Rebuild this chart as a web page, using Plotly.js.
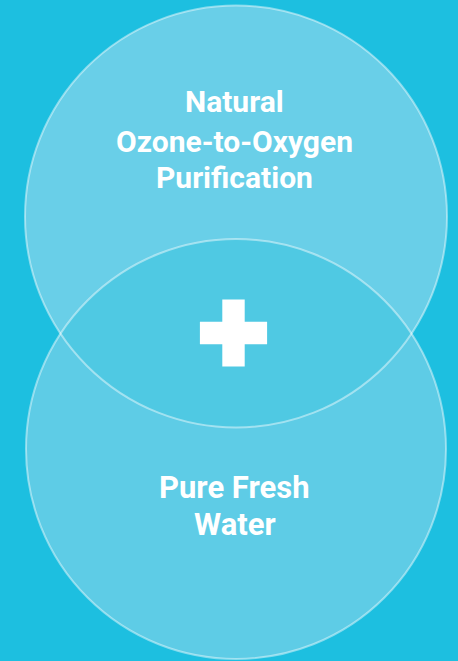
<!DOCTYPE html>
<html>
<head>
<meta charset="utf-8">
<script src="https://cdn.plot.ly/plotly-3.0.1.min.js"></script>
<style>html,body{margin:0;padding:0;background:#1DBFE0;}#chart{width:458px;height:661px;}</style>
</head>
<body>
<div id="chart"></div>
<script>
// ---- data ----
const setNames = ['Natural Ozone-to-Oxygen Purification', 'Pure Fresh Water'];
const setLabelLines = [['Natural', 'Ozone-to-Oxygen', 'Purification'], ['Pure Fresh', 'Water']];
const intersectionSymbol = ['+'];

// ---- layout geometry (pixels-as-data units) ----
const W = 458, H = 661;
const circles = [
  {cx: 236, cy: 216.5, r: 211, fill: '#69CFE8'},
  {cx: 236, cy: 449, r: 210, fill: '#5ECCE6'}
];
const lensFill = '#4FC9E3';
const bg = '#1DBFE0';
const outline = 'rgba(255,255,255,0.45)';
const labelY = [[101, 140.5, 176.5], [486.7, 524]];
const labelSize = [30, 31];
const labelBoxH = [34, 34];
const labelX = 234.5;
const crossPos = {x: 233.5, y: 333, size: 56};

function lensPath(a, b) {
  const dx = b.cx - a.cx, dy = b.cy - a.cy;
  const d = Math.hypot(dx, dy);
  const alongA = (d * d + a.r * a.r - b.r * b.r) / (2 * d);
  const alongB = d - alongA;
  const alpha = Math.acos(alongA / a.r);
  const beta = Math.acos(alongB / b.r);
  const tAB = Math.atan2(dy, dx), tBA = Math.atan2(-dy, -dx);
  const pts = [];
  const N = 120;
  for (let i = 0; i <= N; i++) {
    const t = tAB - alpha + 2 * alpha * i / N;
    pts.push([a.cx + a.r * Math.cos(t), a.cy + a.r * Math.sin(t)]);
  }
  for (let i = 0; i <= N; i++) {
    const t = tBA - beta + 2 * beta * i / N;
    pts.push([b.cx + b.r * Math.cos(t), b.cy + b.r * Math.sin(t)]);
  }
  return 'M' + pts.map(p => p[0].toFixed(2) + ',' + p[1].toFixed(2)).join('L') + 'Z';
}

const shapes = [];
circles.forEach(c => shapes.push({
  type: 'circle', xref: 'x', yref: 'y',
  x0: c.cx - c.r, x1: c.cx + c.r, y0: c.cy - c.r, y1: c.cy + c.r,
  fillcolor: c.fill, line: {width: 0}, layer: 'below'
}));
shapes.push({type: 'path', xref: 'x', yref: 'y', path: lensPath(circles[0], circles[1]),
  fillcolor: lensFill, line: {width: 0}, layer: 'below'});
circles.forEach(c => shapes.push({
  type: 'circle', xref: 'x', yref: 'y',
  x0: c.cx - c.r, x1: c.cx + c.r, y0: c.cy - c.r, y1: c.cy + c.r,
  fillcolor: 'rgba(0,0,0,0)', line: {width: 2, color: outline}, layer: 'below'
}));

const annotations = [];
setLabelLines.forEach((lines, si) => {
  lines.forEach((txt, li) => {
    annotations.push({
      x: labelX, y: labelY[si][li], xref: 'x', yref: 'y',
      text: '<b>' + txt + '</b>', showarrow: false,
      xanchor: 'center', yanchor: 'middle', valign: 'middle',
      height: labelBoxH[si],
      font: {family: 'Roboto, "Noto Sans", sans-serif', size: labelSize[si], color: '#FFFFFF'}
    });
  });
});

const traces = [{
  type: 'scatter', mode: 'markers',
  x: [crossPos.x], y: [crossPos.y], text: intersectionSymbol,
  marker: {symbol: 'cross', size: crossPos.size, color: '#FFFFFF', line: {width: 0}},
  hoverinfo: 'skip', showlegend: false
}];

const layout = {
  width: W, height: H,
  margin: {l: 0, r: 0, t: 0, b: 0, pad: 0},
  paper_bgcolor: bg, plot_bgcolor: bg,
  xaxis: {range: [0, W], visible: false, fixedrange: true},
  yaxis: {range: [H, 0], visible: false, fixedrange: true},
  shapes: shapes, annotations: annotations, showlegend: false
};

Plotly.newPlot('chart', traces, layout, {staticPlot: true, displayModeBar: false});
</script>
</body>
</html>
